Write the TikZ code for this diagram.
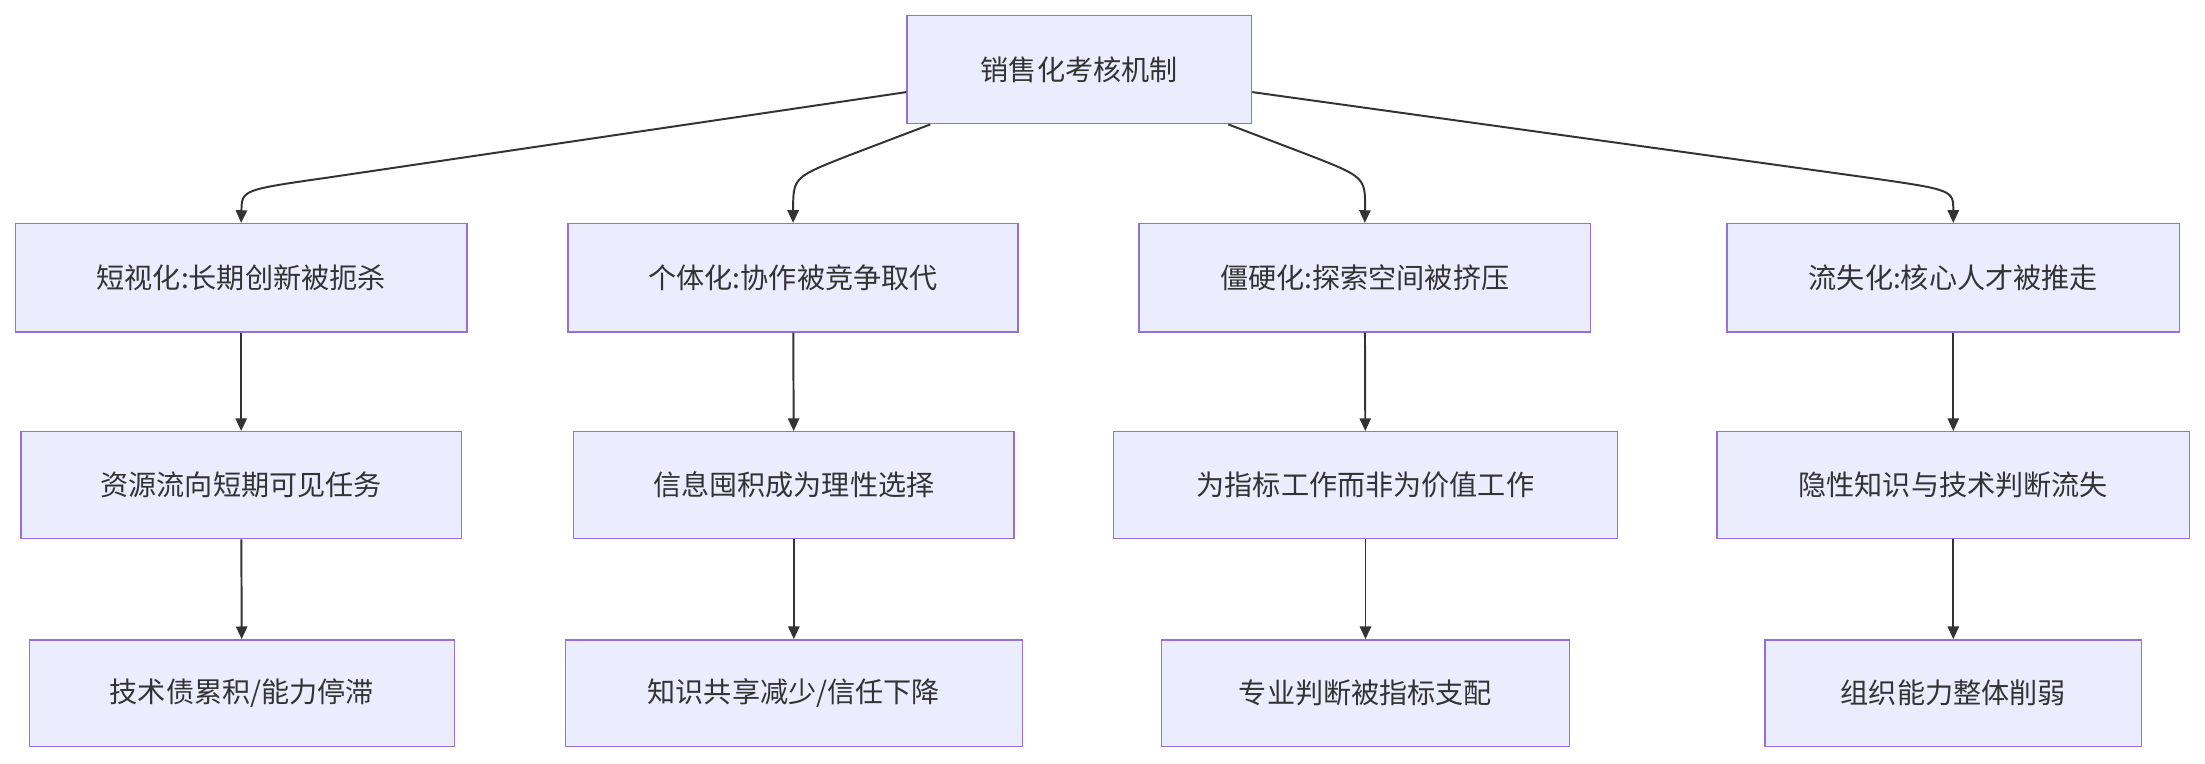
\documentclass[tikz,border=0pt]{standalone}
\usepackage{fontspec}
\setmainfont{Noto Sans CJK SC}
\usetikzlibrary{arrows.meta,calc}
\definecolor{nf}{HTML}{ECECFF}
\definecolor{ns}{HTML}{9370DB}
\definecolor{ln}{HTML}{333333}
\begin{document}
\begin{tikzpicture}[x=1pt,y=-1pt,
  box/.style={draw=ns,fill=nf,line width=1pt,inner sep=0pt,font=\fontsize{20}{24}\selectfont,text=ln},
  arr/.style={draw=ln,line width=1.4pt,-{Triangle[length=9pt,width=8pt]}}]
\useasboundingbox (0,0) rectangle (1568,543);
\newcommand{\bx}[6]{\node[box,minimum width=#4-#3,minimum height=#6-#5] (#1) at ({(#3+#4)/2},{(#5+#6)/2}) {#2};}
\bx{top}{销售化考核机制}{645}{890}{11}{88}
\bx{a1}{短视化:长期创新被扼杀}{11}{332}{159}{236}
\bx{b1}{个体化:协作被竞争取代}{404}{724}{159}{236}
\bx{c1}{僵硬化:探索空间被挤压}{810}{1131}{159}{236}
\bx{d1}{流失化:核心人才被推走}{1228}{1550}{159}{236}
\bx{a2}{资源流向短期可见任务}{15}{328}{307}{383}
\bx{b2}{信息囤积成为理性选择}{408}{721}{307}{383}
\bx{c2}{为指标工作而非为价值工作}{792}{1150}{307}{383}
\bx{d2}{隐性知识与技术判断流失}{1221}{1557}{307}{383}
\bx{a3}{技术债累积/能力停滞}{21}{323}{455}{531}
\bx{b3}{知识共享减少/信任下降}{402}{727}{455}{531}
\bx{c3}{专业判断被指标支配}{826}{1116}{455}{531}
\bx{d3}{组织能力整体削弱}{1255}{1523}{455}{531}
\draw[arr] ($(top.west)+(0,16)$) -- (235,126) .. controls (172,135) .. (a1.north);
\draw[arr] ($(top.south west)+(17,0)$) -- (605,110) .. controls (564,126) .. (b1.north);
\draw[arr] ($(top.south east)+(-17,0)$) -- (930,110) .. controls (971,126) .. (c1.north);
\draw[arr] ($(top.east)+(0,16)$) -- (1326,126) .. controls (1389,135) .. (d1.north);
\foreach \c in {a,b,c,d}{
 \draw[arr] (\c1) -- (\c2);
 \draw[arr] (\c2) -- (\c3);}
\end{tikzpicture}
\end{document}
